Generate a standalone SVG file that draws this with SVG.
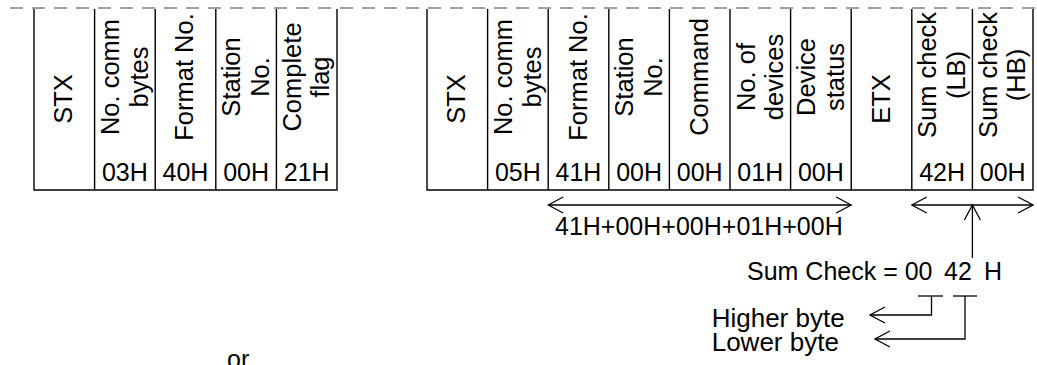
<svg xmlns="http://www.w3.org/2000/svg" width="1037" height="365" viewBox="0 0 1037 365">
<style>
text{font-family:"Liberation Sans",Arial,sans-serif;font-size:25px;fill:#000}
.m{text-anchor:middle}
.r{font-size:25.5px}
.b{font-size:26px}
.box{fill:none;stroke:#000;stroke-width:1.4}
.dash{stroke:#808080;stroke-width:1.5;stroke-dasharray:13 9;fill:none}
.c{fill:none;stroke:#000;stroke-width:1.3}
</style>
<defs>
<marker id="ah" viewBox="-16 -9 17 18" markerWidth="17" markerHeight="18" refX="0" refY="0" orient="auto-start-reverse" markerUnits="userSpaceOnUse">
<path d="M-15,-8 L0,0 L-15,8" fill="none" stroke="#000" stroke-width="1.3"/>
</marker>
</defs>
<rect width="1037" height="365" fill="#fff"/>
<line class="dash" x1="10" y1="8" x2="1037" y2="8"/>

<g id="frame1">
<path class="box" d="M34,9 V190 H337 V9 M94.6,9 V190 M155.2,9 V190 M215.8,9 V190 M276.4,9 V190"/>
</g>
<g id="f1-stx"><text class="m r" transform="translate(72,99) rotate(-90)">STX</text></g>
<g id="f1-bytes"><text class="m r" transform="translate(119,77) rotate(-90)"><tspan x="0" y="0">No. comm</tspan><tspan x="0" y="28.5">bytes</tspan></text><text class="m" x="124.9" y="180.5">03H</text></g>
<g id="f1-format"><text class="m r" transform="translate(193,77) rotate(-90)">Format No.</text><text class="m" x="185.5" y="180.5">40H</text></g>
<g id="f1-station"><text class="m r" transform="translate(240.3,77) rotate(-90)"><tspan x="0" y="0">Station</tspan><tspan x="0" y="28.5">No.</tspan></text><text class="m" x="246.1" y="180.5">00H</text></g>
<g id="f1-complete"><text class="m r" transform="translate(300.9,77) rotate(-90)"><tspan x="0" y="0">Complete</tspan><tspan x="0" y="28.5">flag</tspan></text><text class="m" x="306.7" y="180.5">21H</text></g>

<g id="frame2">
<path class="box" d="M427,9 V190 H1033 V9 M487.6,9 V190 M548.2,9 V190 M608.8,9 V190 M669.4,9 V190 M730,9 V190 M790.6,9 V190 M851.2,9 V190 M911.8,9 V190 M972.4,9 V190"/>
</g>
<g id="f2-stx"><text class="m r" transform="translate(465,99) rotate(-90)">STX</text></g>
<g id="f2-bytes"><text class="m r" transform="translate(512,77) rotate(-90)"><tspan x="0" y="0">No. comm</tspan><tspan x="0" y="28.5">bytes</tspan></text><text class="m" x="517.9" y="180.5">05H</text></g>
<g id="f2-format"><text class="m r" transform="translate(586.5,77) rotate(-90)">Format No.</text><text class="m" x="578.5" y="180.5">41H</text></g>
<g id="f2-station"><text class="m r" transform="translate(633.3,77) rotate(-90)"><tspan x="0" y="0">Station</tspan><tspan x="0" y="28.5">No.</tspan></text><text class="m" x="639.1" y="180.5">00H</text></g>
<g id="f2-command"><text class="m r" transform="translate(707.7,77) rotate(-90)">Command</text><text class="m" x="699.7" y="180.5">00H</text></g>
<g id="f2-devices"><text class="m r" transform="translate(754.5,77) rotate(-90)"><tspan x="0" y="0">No. of</tspan><tspan x="0" y="28.5">devices</tspan></text><text class="m" x="760.3" y="180.5">01H</text></g>
<g id="f2-status"><text class="m r" transform="translate(815.1,77) rotate(-90)"><tspan x="0" y="0">Device</tspan><tspan x="0" y="28.5">status</tspan></text><text class="m" x="820.9" y="180.5">00H</text></g>
<g id="f2-etx"><text class="m r" transform="translate(889.5,99) rotate(-90)">ETX</text></g>
<g id="f2-sumlb"><text class="m r" transform="translate(936.3,75) rotate(-90)"><tspan x="0" y="0">Sum check</tspan><tspan x="0" y="28.5">(LB)</tspan></text><text class="m" x="942.1" y="180.5">42H</text></g>
<g id="f2-sumhb"><text class="m r" transform="translate(996.9,75) rotate(-90)"><tspan x="0" y="0">Sum check</tspan><tspan x="0" y="28.5">(HB)</tspan></text><text class="m" x="1002.7" y="180.5">00H</text></g>

<g id="connectors">
<line class="c" x1="548.2" y1="205" x2="851.2" y2="205" marker-start="url(#ah)" marker-end="url(#ah)"/>
<line class="c" x1="911.8" y1="205" x2="1033" y2="205" marker-start="url(#ah)" marker-end="url(#ah)"/>
<line class="c" x1="972.4" y1="258" x2="972.4" y2="205" marker-end="url(#ah)"/>
<line class="c" x1="918" y1="296" x2="943" y2="296"/>
<polyline class="c" points="931.5,296 931.5,315 870,315" marker-end="url(#ah)"/>
<line class="c" x1="953" y1="296" x2="977" y2="296"/>
<polyline class="c" points="965,296 965,339 875,339" marker-end="url(#ah)"/>
</g>

<g id="labels">
<text x="555" y="235">41H+00H+00H+01H+00H</text>
<text y="280"><tspan x="747">Sum Check = 00</tspan><tspan x="944">42</tspan><tspan x="984">H</tspan></text>
<text class="b" x="711.7" y="327">Higher byte</text>
<text class="b" x="711.7" y="351">Lower byte</text>
<text x="227" y="368">or</text>
</g>
</svg>
